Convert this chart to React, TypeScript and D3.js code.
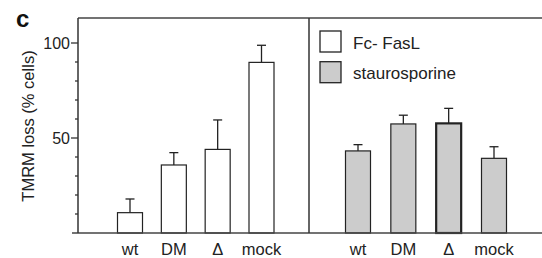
import React from "react";
import * as d3 from "d3";

const categories = ["wt", "DM", "Δ", "mock"];
const fasLValues = [10.7, 35.8, 44, 89.8];
const fasLErrors = [17.9, 42.3, 59.5, 98.8];
const stauroValues = [43.2, 57.4, 57.7, 39.3];
const stauroErrors = [46.5, 62, 65.6, 45.4];
const majorTicks = [50, 100];
const minorTicks = [10, 20, 30, 40, 60, 70, 80, 90];
const legendLabels = ["Fc- FasL", "staurosporine"];
const yLabel = "TMRM loss (% cells)";

const W = 542;
const H = 258;
const FONT = "Liberation Sans, Arial, Helvetica, sans-serif";

export default function App() {
  const y = d3.scaleLinear().domain([0, 100]).range([233, 43]);
  const xLeft = d3.scalePoint<string>().domain(categories).range([130, 261.5]);
  const xRight = d3.scalePoint<string>().domain(categories).range([358, 494]);
  const barW = 25;
  const capW = 9;
  const axisX = 78;
  const topY = 18;
  const baseY = y(0);
  const stroke = "#222";

  const panels = [
    { x: xLeft, values: fasLValues, errors: fasLErrors, fill: "#ffffff", bold: -1 },
    { x: xRight, values: stauroValues, errors: stauroErrors, fill: "#cccccc", bold: 2 },
  ];

  return (
    <svg
      width={W}
      height={H}
      style={{ position: "absolute", left: 0, top: 0, background: "#fff" }}
      fontFamily={FONT}
    >
      <rect x={0} y={0} width={W} height={H} fill="#fff" />
      {/* panel label */}
      <text x={16} y={27} fontSize={24} fontWeight="bold" fill="#111">c</text>

      {/* y axis label */}
      <text
        transform={`translate(34,126) rotate(-90)`}
        textAnchor="middle"
        fontSize={16.5}
        fill="#222"
      >
        {yLabel}
      </text>

      {/* bars */}
      {panels.map((p, pi) =>
        categories.map((c, i) => {
          const cx = p.x(c) as number;
          const top = y(p.values[i]);
          const et = y(p.errors[i]);
          const sw = i === p.bold ? 2.2 : 1.2;
          return (
            <g key={`${pi}-${i}`}>
              <line x1={cx} x2={cx} y1={top} y2={et} stroke={stroke} strokeWidth={1.3} />
              <line x1={cx - capW / 2} x2={cx + capW / 2} y1={et} y2={et} stroke={stroke} strokeWidth={1.3} />
              <rect
                x={cx - barW / 2}
                y={top}
                width={barW}
                height={baseY - top}
                fill={p.fill}
                stroke={stroke}
                strokeWidth={sw}
              />
              <text x={cx} y={255} textAnchor="middle" fontSize={16.5} fill="#222">
                {c}
              </text>
            </g>
          );
        })
      )}

      {/* frame */}
      <line x1={axisX} x2={W} y1={topY} y2={topY} stroke="#444" strokeWidth={1.5} />
      <line x1={72} x2={W} y1={baseY} y2={baseY} stroke="#444" strokeWidth={1.5} />
      <line x1={axisX} x2={axisX} y1={topY} y2={baseY} stroke="#333" strokeWidth={1.5} />
      <line x1={309} x2={309} y1={topY} y2={baseY} stroke="#333" strokeWidth={1.5} />

      {/* ticks */}
      {majorTicks.map((t) => (
        <g key={`M${t}`}>
          <line x1={71} x2={axisX} y1={y(t)} y2={y(t)} stroke="#333" strokeWidth={1.3} />
          <text x={70} y={y(t)} dy="0.35em" textAnchor="end" fontSize={16} fill="#222">
            {t}
          </text>
        </g>
      ))}
      {minorTicks.map((t) => (
        <line key={`m${t}`} x1={75} x2={axisX} y1={y(t)} y2={y(t)} stroke="#333" strokeWidth={1.3} />
      ))}

      {/* legend */}
      {legendLabels.map((l, i) => (
        <g key={l} transform={`translate(320,${31 + i * 30.7})`}>
          <rect x={0} y={0} width={21} height={21} fill={i === 0 ? "#fff" : "#cccccc"} stroke={stroke} strokeWidth={1.3} />
          <text x={33} y={17.5} fontSize={17} fill="#222">{l}</text>
        </g>
      ))}
    </svg>
  );
}
